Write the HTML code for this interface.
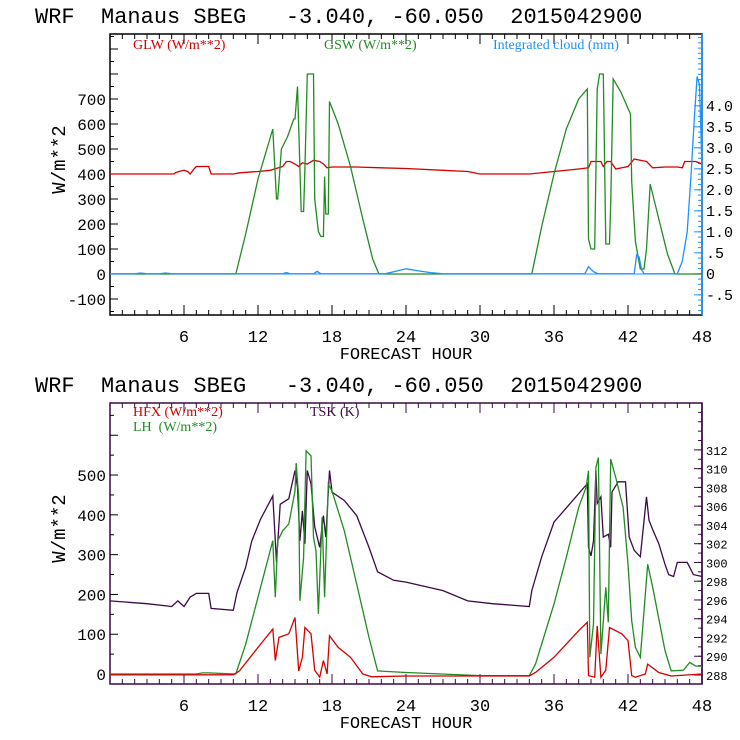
<!DOCTYPE html>
<html><head><meta charset="utf-8"><style>
html,body{margin:0;padding:0;background:#fff;}
svg{display:block;}
text{font-family:"Liberation Mono",monospace;}
.lg{font-family:"Liberation Serif",serif;font-size:14px;}
.pre{white-space:pre;}
</style></head><body>
<svg id="c" width="740" height="740" viewBox="0 0 740 740" xmlns="http://www.w3.org/2000/svg"></svg>
<script>
// ---- data (hours, values) ----
const glwH=[0,5.2,5.3,5.6,6,6.3,6.5,6.8,7,8,8.2,10,10.5,12,13,14,14.3,14.6,15,15.3,15.6,16,16.5,17,17.3,17.6,18,20,22,24,27,29,30,34,36,38,38.8,39,39.8,40,40.3,40.6,41,42,42.5,43,43.5,44,45,46,46.4,46.6,47.5,48];
const glwV=[400,400,405,410,415,410,400,420,430,430,400,400,405,410,415,430,450,450,440,430,445,440,455,450,440,425,428,428,425,422,415,410,400,400,410,420,425,450,450,430,450,450,420,430,460,455,450,425,428,428,425,450,450,440];
const gswH=[0,10.2,11,12,13.2,13.5,13.6,13.9,14.4,14.9,15,15.2,15.5,15.7,15.8,16,16.5,16.6,16.9,17.1,17.3,17.4,17.5,17.7,17.8,18.5,19.5,20.5,21.3,21.8,34.2,35,36,37,38,38.7,38.8,39,39.3,39.5,39.7,40,40.2,40.5,40.6,40.8,41.4,42.2,42.3,42.6,43,43.3,43.5,43.8,44.5,45.2,45.8,48];
const gswV=[0,0,160,380,580,300,300,500,550,620,620,750,250,250,420,800,800,300,170,150,150,390,240,240,690,600,430,220,60,0,0,190,400,580,700,740,140,100,100,740,800,800,120,120,280,780,730,640,370,130,20,20,100,360,220,80,0,0];
const cldH=[0,2,2.5,3,4,4.5,5,14,14.3,14.6,16.5,16.8,17.1,22.3,23,24,25,26,27,38.5,38.8,39.2,39.6,42.5,42.7,42.9,43.1,43.3,46,46.4,46.8,47.1,47.4,47.6,47.8,48];
const cldV=[0,0,0.02,0,0,0.02,0,0,0.03,0,0,0.06,0,0,0.05,0.12,0.07,0.03,0,0,0.17,0.05,0,0,0.45,0.4,0.1,0,0,0.3,1.0,2.3,3.8,4.7,4.5,2.5];
const tskH=[0,3,5,5.5,6,6.5,7,8,8.2,10,10.3,11,11.5,12.2,13.2,13.5,13.8,14.5,15,15.2,15.4,15.6,15.8,16,16.3,16.6,17,17.3,17.5,17.8,18,19,20,21,21.7,23,24,27,29,31,34,34.2,35,36,38.7,38.8,39,39.2,39.4,39.5,39.8,40,40.4,40.6,40.7,41.2,41.8,42.1,42.5,43,43.5,43.7,44,44.5,45,45.3,45.7,46,46.8,47.3,48];
const tskV=[295.9,295.6,295.3,295.9,295.3,296.3,296.7,296.7,295.1,294.9,296.8,299.5,302.3,304.6,307.1,300.0,306.2,306.8,309.8,308,302.3,305.5,302,309.8,308.4,303.8,301.6,305,302.7,309.8,307.5,306.6,305,301.6,299,298.1,297.9,297,295.9,295.6,295.3,297,300.6,304.3,308.4,301.6,300.7,302.3,309.8,306.3,307,302.7,303,301.6,307.5,308.6,308.6,302.7,301.3,300.6,307,304.5,303.5,302,299.8,298.7,298.5,300,300,298.7,298.5];
const lhH=[0,7,7.5,8,10.2,11,12,13.2,13.4,13.6,14,14.5,15,15.1,15.3,15.4,15.7,15.9,16.3,16.5,16.7,16.9,17.2,17.4,17.7,18,19,20,21,21.7,24,30,34,34.5,36,37,38,38.6,38.8,38.9,39.2,39.4,39.6,39.8,40.2,40.4,40.6,41,41.6,42,42.3,42.6,43,43.2,43.6,44,45,45.5,46.5,47,47.5,48];
const lhV=[0,0,3,3,0,75,193,335,193,335,360,377,460,530,444,184,293,561,548,343,310,151,394,193,477,460,360,226,92,8,4,-4,-4,25,176,293,419,469,511,42,126,519,544,50,218,130,540,494,419,276,134,67,42,120,276,218,59,8,10,29,20,20];
const hfxH=[0,10,10.5,12,13.2,13.4,13.7,14.5,15,15.3,15.6,15.8,16.3,16.6,17,17.3,17.6,17.8,18.5,19.5,20.5,21.2,24,34,34.5,36,38,38.7,38.8,39.3,39.5,39.8,40.2,40.5,41.5,42,42.3,42.6,43.4,43.6,44.5,45.5,48];
const hfxV=[-2,-2,8,67,113,34,92,101,142,8,42,117,101,10,-8,34,0,96,67,42,0,-7,-5,-5,4,42,109,130,-4,-8,121,-8,10,117,101,84,-4,-8,0,25,4,-5,0];
const xTicks=[6,12,18,24,30,36,42,48];
const topLeftTicks=[-100,0,100,200,300,400,500,600,700];
const topRightTicks=[-0.5,0,0.5,1.0,1.5,2.0,2.5,3.0,3.5,4.0];
const topRightLabels=['-.5','0','.5','1.0','1.5','2.0','2.5','3.0','3.5','4.0'];
const botLeftTicks=[0,100,200,300,400,500];
const botRightTicks=[288,290,292,294,296,298,300,302,304,306,308,310,312];

const S=document.getElementById('c');
const NS='http://www.w3.org/2000/svg';
function el(t,a,p){const e=document.createElementNS(NS,t);for(const k in a)e.setAttribute(k,a[k]);(p||S).appendChild(e);return e;}
const X0=110,X1=702;
const xs=h=>X0+(X1-X0)*h/48;

function panel(oy,name,boxColor,lmin,lmax,lTicks,lStep,rmin,rmax,rTicks,rLabels,rColor,rMinor){
  const T=34+oy,B=315+oy;
  const g=el('g',{});
  
  
  const t=el('text',{x:35,y:23+oy,'font-size':'22',fill:'#000',class:'pre'},g);
  t.textContent='WRF  Manaus SBEG   -3.040, -60.050  2015042900';
  
  
  const ly=v=>B-(B-T)*(v-lmin)/(lmax-lmin);
  const ry=v=>B-(B-T)*(v-rmin)/(rmax-rmin);
  const bx=el('rect',{x:X0,y:T,width:X1-X0,height:B-T,fill:'none',stroke:boxColor,'stroke-width':1.5},g);
  
  
  for(let h=1;h<48;h++){const x=xs(h);const L=h%6==0?10:5;
    el('line',{x1:x,x2:x,y1:B,y2:B-L,stroke:boxColor},g);el('line',{x1:x,x2:x,y1:T,y2:T+L,stroke:boxColor},g);}
  xTicks.forEach(h=>{const tx=el('text',{x:xs(h),y:B+27,'font-size':'17','text-anchor':'middle'},g);tx.textContent=h;
    
    });
  const xt=el('text',{x:406,y:B+44,'font-size':'17','text-anchor':'middle'},g);xt.textContent='FORECAST HOUR';
  
  
  for(let v=Math.ceil(lmin/(lStep/2))*(lStep/2);v<=lmax;v+=lStep/2){const y=ly(v);if(y<T+1||y>B-1)continue;
    el('line',{x1:X0,x2:X0+(v%lStep==0?8:4),y1:y,y2:y,stroke:'#000'},g);}
  lTicks.forEach(v=>{const tx=el('text',{x:X0-4,y:ly(v)+6,'font-size':'16','text-anchor':'end'},g);tx.textContent=String(v);
    
    });
  const yt=el('text',{x:0,y:0,'font-size':'19','text-anchor':'middle',transform:`translate(65,${(T+B)/2-15}) rotate(-90)`},g);yt.textContent='W/m**2';
  
  
  el('line',{x1:X1,x2:X1,y1:T,y2:B,stroke:rColor,'stroke-width':1.5},g);
  for(let v=Math.ceil(rmin/rMinor)*rMinor;v<=rmax+1e-9;v+=rMinor){const y=ry(v);el('line',{x1:X1,x2:X1-4,y1:y,y2:y,stroke:rColor},g);}
  rTicks.forEach((v,i)=>{const y=ry(v);el('line',{x1:X1,x2:X1-8,y1:y,y2:y,stroke:rColor},g);
    const tx=el('text',{x:X1+4,y:y+5,'font-size':rLabels?'15':'12'},g);tx.textContent=rLabels?rLabels[i]:v;
    
    });
  return {ly,ry,g};
}
function line(H,V,sc,color,name,g){
  const p=H.map((h,i)=>xs(h).toFixed(1)+','+sc(V[i]).toFixed(1)).join(' ');
  const l=el('polyline',{points:p,fill:'none',stroke:color,'stroke-width':1.3},g);
  
  
}
function legend(x,y,txt,color,name,g){
  const t=el('text',{x,y,fill:color,class:'lg pre'},g);t.textContent=txt;
  
  
}
const P1=panel(0,'top-panel','#000',-164,960,topLeftTicks,100,-0.98,5.71,topRightTicks,topRightLabels,'#1e90ff',0.125);
el('line',{x1:X0,x2:X1,y1:P1.ly(0),y2:P1.ly(0),stroke:'#1e90ff','stroke-width':1},P1.g);
line(glwH,glwV,P1.ly,'#d40000','glw-line',P1.g);
line(gswH,gswV,P1.ly,'#228b22','gsw-line',P1.g);
line(cldH,cldV,P1.ry,'#1e90ff','cloud-line',P1.g);
legend(133,49,'GLW (W/m**2)','#d40000','legend-glw',P1.g);
legend(324,49,'GSW (W/m**2)','#228b22','legend-gsw',P1.g);
legend(493,49,'Integrated cloud (mm)','#1e90ff','legend-cloud',P1.g);
const P2=panel(369,'bottom-panel','#3c0a46',-25,681,botLeftTicks,100,287.04,317,botRightTicks,null,'#3c0a46',1);
line(tskH,tskV,P2.ry,'#3c0a46','tsk-line',P2.g);
line(lhH,lhV,P2.ly,'#228b22','lh-line',P2.g);
line(hfxH,hfxV,P2.ly,'#d40000','hfx-line',P2.g);
legend(133,416,'HFX (W/m**2)','#d40000','legend-hfx',P2.g);
legend(133,431,'LH  (W/m**2)','#228b22','legend-lh',P2.g);
legend(310,416,'TSK (K)','#3c0a46','legend-tsk',P2.g);
</script>
</body></html>
